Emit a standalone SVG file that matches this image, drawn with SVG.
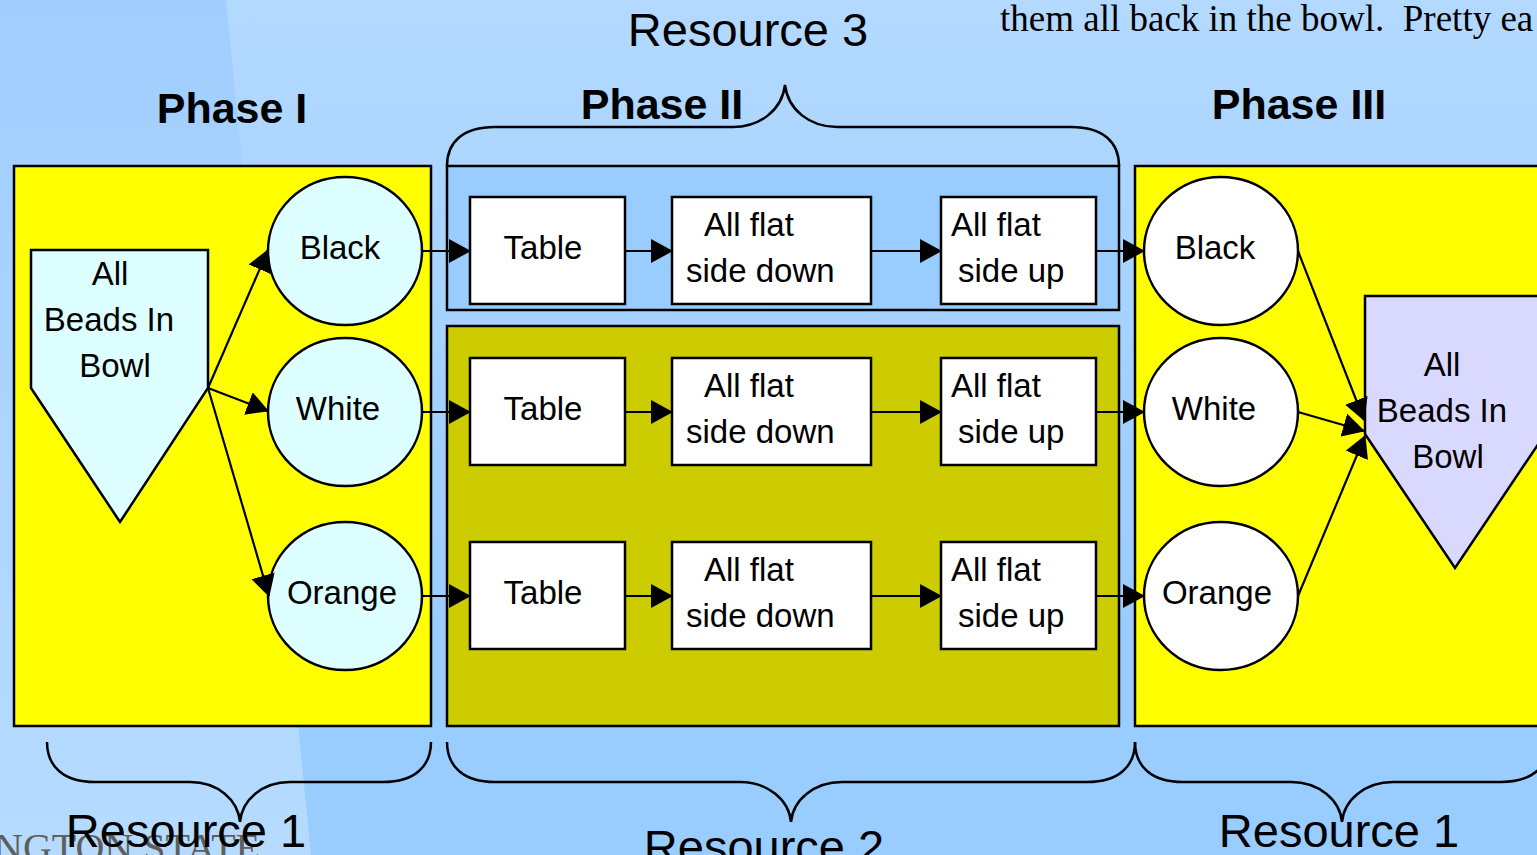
<svg xmlns="http://www.w3.org/2000/svg" width="1537" height="855" viewBox="0 0 1537 855">
  <defs>
    <linearGradient id="bgR" x1="0" y1="0" x2="0" y2="1">
      <stop offset="0" stop-color="#B3D9FF"/>
      <stop offset="0.75" stop-color="#99CCFF"/>
      <stop offset="1" stop-color="#99CCFF"/>
    </linearGradient>
    <linearGradient id="bgL" x1="0" y1="0" x2="0" y2="1">
      <stop offset="0" stop-color="#A1CEFF"/>
      <stop offset="1" stop-color="#B6DBFF"/>
    </linearGradient>
    <marker id="arr" markerUnits="userSpaceOnUse" markerWidth="22" markerHeight="24" refX="21" refY="12" orient="auto" viewBox="0 0 22 24">
      <path d="M0,0 L22,12 L0,24 z" fill="#000"/>
    </marker>
  </defs>
  <style>
    .t { font-family: "Liberation Sans", Arial, sans-serif; font-size: 33px; fill: #000; }
    .tc { text-anchor: middle; }
    .ph { font-family: "Liberation Sans", Arial, sans-serif; font-size: 43px; font-weight: bold; fill: #000; text-anchor: middle; }
    .res { font-family: "Liberation Sans", Arial, sans-serif; font-size: 47px; fill: #000; text-anchor: middle; }
    .brace { fill: none; stroke: #000; stroke-width: 2.5; }
    .box { stroke: #000; stroke-width: 2.5; }
    .proc { fill: #FFFFFF; stroke: #000; stroke-width: 2.5; }
    .circL { fill: #DDFFFF; stroke: #000; stroke-width: 2.5; }
    .circR { fill: #FFFFFF; stroke: #000; stroke-width: 2.5; }
    .conn { fill: none; stroke: #000; stroke-width: 2.2; marker-end: url(#arr); }
  </style>

  <!-- background -->
  <rect x="0" y="0" width="1537" height="855" fill="url(#bgR)"/>
  <polygon points="0,0 226,0 311,855 0,855" fill="url(#bgL)"/>

  <!-- background texts -->
  <text x="1000" y="31" xml:space="preserve" style="font-family:'Liberation Serif','Times New Roman',serif;font-size:37px;fill:#000">them all back in the bowl.  Pretty ea</text>
  <text x="-6" y="861" style="font-family:'Liberation Serif','Times New Roman',serif;font-size:40px;fill:#5E5E5E">NGTON STATE</text>

  <!-- titles -->
  <text class="res" x="748" y="46">Resource 3</text>
  <text class="ph" x="232" y="123">Phase I</text>
  <text class="ph" x="662" y="119">Phase II</text>
  <text class="ph" x="1299" y="119">Phase III</text>
  <text class="res" x="186" y="847">Resource 1</text>
  <text class="res" x="764" y="863">Resource 2</text>
  <text class="res" x="1339" y="847">Resource 1</text>

  <!-- braces -->
  <g id="braces">
    <path class="brace" d="M447,166 C447,142 463,127 495,127 L733,127 C760,127 782,110 785,85 C788,110 810,127 837,127 L1071,127 C1103,127 1119,142 1119,166"/>
    <path class="brace" d="M47,742 C47,766 63,782 95,782 L190,782 C218,782 238,800 240,822 C242,800 262,782 290,782 L383,782 C415,782 431,766 431,742"/>
    <path class="brace" d="M447,742 C447,766 463,782 495,782 L740,782 C768,782 789,800 791,822 C793,800 814,782 842,782 L1087,782 C1119,782 1135,766 1135,742"/>
    <path class="brace" d="M1135,742 C1135,766 1151,782 1183,782 L1291,782 C1319,782 1340,800 1342,822 C1344,800 1365,782 1393,782 L1501,782 C1533,782 1549,766 1549,742"/>
  </g>

  <!-- containers -->
  <g id="phase1-box"><rect class="box" x="14" y="166" width="417" height="560" fill="#FFFF00"/></g>
  <g id="phase2-row1-box"><rect class="box" x="447" y="166" width="672" height="144" fill="#99CCFF"/></g>
  <g id="phase2-rows23-box"><rect class="box" x="447" y="326" width="672" height="400" fill="#CCCC00"/></g>
  <g id="phase3-box"><rect class="box" x="1135" y="166" width="420" height="560" fill="#FFFF00"/></g>

  <!-- Phase I nodes -->
  <g id="bowl-start">
    <polygon class="circL" points="31,250 208,250 208,388 120,522 31,388"/>
    <text class="t tc" x="110" y="285">All</text>
    <text class="t tc" x="109" y="331">Beads In</text>
    <text class="t tc" x="115" y="377">Bowl</text>
  </g>
  <g id="black-1"><ellipse class="circL" cx="345" cy="251" rx="77" ry="74"/><text class="t tc" x="340" y="259">Black</text></g>
  <g id="white-1"><ellipse class="circL" cx="345" cy="412" rx="77" ry="74"/><text class="t tc" x="338" y="420">White</text></g>
  <g id="orange-1"><ellipse class="circL" cx="345" cy="596" rx="77" ry="74"/><text class="t tc" x="342" y="604">Orange</text></g>

  <!-- Phase II nodes -->
  <g id="table-1"><rect class="proc" x="470" y="197" width="155" height="107"/><text class="t tc" x="543" y="259">Table</text></g>
  <g id="down-1"><rect class="proc" x="672" y="197" width="199" height="107"/><text class="t" x="704" y="236">All flat</text><text class="t" x="686" y="282">side down</text></g>
  <g id="up-1"><rect class="proc" x="941" y="197" width="155" height="107"/><text class="t" x="951" y="236">All flat</text><text class="t" x="958" y="282">side up</text></g>

  <g id="table-2"><rect class="proc" x="470" y="358" width="155" height="107"/><text class="t tc" x="543" y="420">Table</text></g>
  <g id="down-2"><rect class="proc" x="672" y="358" width="199" height="107"/><text class="t" x="704" y="397">All flat</text><text class="t" x="686" y="443">side down</text></g>
  <g id="up-2"><rect class="proc" x="941" y="358" width="155" height="107"/><text class="t" x="951" y="397">All flat</text><text class="t" x="958" y="443">side up</text></g>

  <g id="table-3"><rect class="proc" x="470" y="542" width="155" height="107"/><text class="t tc" x="543" y="604">Table</text></g>
  <g id="down-3"><rect class="proc" x="672" y="542" width="199" height="107"/><text class="t" x="704" y="581">All flat</text><text class="t" x="686" y="627">side down</text></g>
  <g id="up-3"><rect class="proc" x="941" y="542" width="155" height="107"/><text class="t" x="951" y="581">All flat</text><text class="t" x="958" y="627">side up</text></g>

  <!-- Phase III nodes -->
  <g id="black-3"><ellipse class="circR" cx="1221" cy="251" rx="77" ry="74"/><text class="t tc" x="1215" y="259">Black</text></g>
  <g id="white-3"><ellipse class="circR" cx="1221" cy="412" rx="77" ry="74"/><text class="t tc" x="1214" y="420">White</text></g>
  <g id="orange-3"><ellipse class="circR" cx="1221" cy="596" rx="77" ry="74"/><text class="t tc" x="1217" y="604">Orange</text></g>
  <g id="bowl-end">
    <polygon points="1365,296 1545,296 1545,434 1455,568 1365,434" fill="#D9D9FF" stroke="#000" stroke-width="2.5"/>
    <text class="t tc" x="1442" y="376">All</text>
    <text class="t tc" x="1442" y="422">Beads In</text>
    <text class="t tc" x="1448" y="468">Bowl</text>
  </g>

  <!-- connectors -->
  <g id="connectors">
    <line class="conn" x1="208" y1="388" x2="268" y2="250"/>
    <line class="conn" x1="208" y1="388" x2="268" y2="411"/>
    <line class="conn" x1="208" y1="388" x2="269" y2="596"/>

    <line class="conn" x1="422" y1="251" x2="470" y2="251"/>
    <line class="conn" x1="625" y1="251" x2="672" y2="251"/>
    <line class="conn" x1="871" y1="251" x2="941" y2="251"/>
    <line class="conn" x1="1096" y1="251" x2="1144" y2="251"/>

    <line class="conn" x1="422" y1="412" x2="470" y2="412"/>
    <line class="conn" x1="625" y1="412" x2="672" y2="412"/>
    <line class="conn" x1="871" y1="412" x2="941" y2="412"/>
    <line class="conn" x1="1096" y1="412" x2="1144" y2="412"/>

    <line class="conn" x1="422" y1="596" x2="470" y2="596"/>
    <line class="conn" x1="625" y1="596" x2="672" y2="596"/>
    <line class="conn" x1="871" y1="596" x2="941" y2="596"/>
    <line class="conn" x1="1096" y1="596" x2="1144" y2="596"/>

    <line class="conn" x1="1298" y1="251" x2="1364" y2="420"/>
    <line class="conn" x1="1298" y1="412" x2="1364" y2="431"/>
    <line class="conn" x1="1298" y1="596" x2="1365" y2="436"/>
  </g>
</svg>
